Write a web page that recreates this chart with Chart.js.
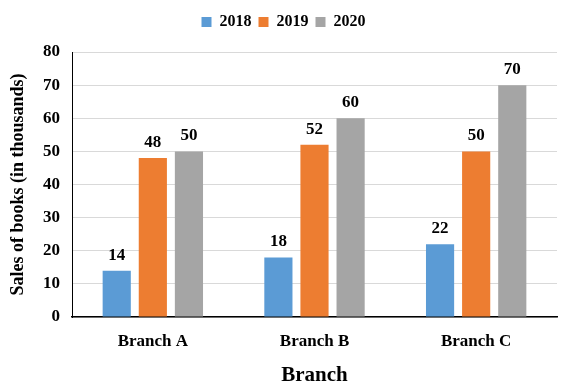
<!DOCTYPE html>
<html>
<head>
<meta charset="utf-8">
<script src="https://cdn.jsdelivr.net/npm/chart.js@4.4.0/dist/chart.umd.min.js"></script>
<style>
html,body{margin:0;padding:0;background:#fff;}
#wrap{width:563px;height:390px;}
</style>
</head>
<body>
<div id="wrap"><canvas id="c" width="563" height="390"></canvas></div>
<script>
const categories = ["Branch A", "Branch B", "Branch C"];
const seriesNames = ["2018", "2019", "2020"];
const sales2018 = [14, 18, 22];
const sales2019 = [48, 52, 50];
const sales2020 = [50, 60, 70];
const yTicks = [0, 10, 20, 30, 40, 50, 60, 70, 80];

const FONT = "'Liberation Serif', 'Times New Roman', serif";

const labelPlugin = {
  id: 'barLabels',
  afterDatasetsDraw(chart) {
    const ctx = chart.ctx;
    ctx.save();
    ctx.font = "bold 17px " + FONT;
    ctx.fillStyle = "#000";
    ctx.textAlign = "center";
    ctx.textBaseline = "alphabetic";
    chart.data.datasets.forEach((ds, i) => {
      const meta = chart.getDatasetMeta(i);
      meta.data.forEach((bar, j) => {
        ctx.fillText(String(ds.data[j]), bar.x, bar.y - 11);
      });
    });
    ctx.restore();
  }
};

const legendSpacer = {
  id: 'legendSpacer',
  beforeUpdate(chart) {
    const lg = chart.legend;
    if (lg && !lg._spaced) {
      lg._spaced = true;
      const origFit = lg.fit;
      lg.fit = function () { origFit.call(this); this.height += 12; };
    }
  },
  afterLayout(chart) {
    const lg = chart.legend;
    if (lg) { lg.left += 5; lg.right += 5; }
  }
};

new Chart(document.getElementById('c'), {
  type: 'bar',
  data: {
    labels: categories,
    datasets: [
      { label: seriesNames[0], data: sales2018, backgroundColor: '#5B9BD5' },
      { label: seriesNames[1], data: sales2019, backgroundColor: '#ED7D31' },
      { label: seriesNames[2], data: sales2020, backgroundColor: '#A5A5A5' }
    ]
  },
  options: {
    responsive: false,
    animation: false,
    devicePixelRatio: 1,
    categoryPercentage: 0.67,
    barPercentage: 0.78,
    layout: { padding: { top: 7, right: 6, left: 0, bottom: 0 } },
    plugins: {
      legend: {
        position: 'top',
        labels: {
          boxWidth: 10,
          boxHeight: 10,
          padding: 7,
          color: '#000',
          font: { family: FONT, size: 16, weight: 'bold' }
        }
      },
      tooltip: { enabled: false }
    },
    scales: {
      x: {
        grid: { display: false, drawTicks: false },
        border: { display: true, color: '#000', width: 1.5 },
        ticks: { color: '#000', padding: 14, font: { family: FONT, size: 17, weight: 'bold' } },
        title: { display: true, text: 'Branch', color: '#000', padding: { top: 0, bottom: 2 }, font: { family: FONT, size: 21, weight: 'bold' } },
        afterFit(scale) { scale.height = 73; }
      },
      y: {
        min: 0,
        max: 80,
        afterBuildTicks(scale) { scale.ticks = yTicks.map(v => ({ value: v })); },
        grid: { color: '#D9D9D9', drawTicks: false },
        border: { display: true, color: '#000', width: 1 },
        ticks: { color: '#000', padding: 12, font: { family: FONT, size: 17, weight: 'bold' } },
        title: { display: true, text: 'Sales of books (in thousands)', color: '#000', padding: { top: 8, bottom: 0 }, font: { family: FONT, size: 18, weight: 'bold' } },
        afterFit(scale) { scale.width = 72; }
      }
    }
  },
  plugins: [labelPlugin, legendSpacer]
});
</script>
</body>
</html>
